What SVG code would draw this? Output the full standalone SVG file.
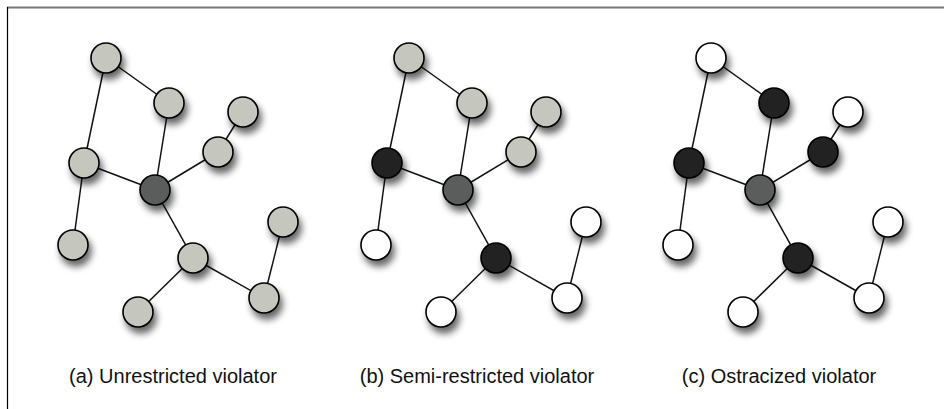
<svg xmlns="http://www.w3.org/2000/svg" width="944" height="409" viewBox="0 0 944 409">
<defs>
<filter id="sh" x="-60%" y="-60%" width="240%" height="240%">
<feGaussianBlur in="SourceAlpha" stdDeviation="3.5"/>
<feOffset dx="3" dy="6" result="b"/>
<feComponentTransfer><feFuncA type="linear" slope="0.6"/></feComponentTransfer>
<feMerge><feMergeNode/><feMergeNode in="SourceGraphic"/></feMerge>
</filter>
</defs>
<style>
.e{stroke:#111;stroke-width:1.5;fill:none}
circle{stroke:#000;stroke-width:1.6;filter:url(#sh)}
.g{fill:#c5c6be}
.c{fill:#5a5d5b}
.k{fill:#222}
.w{fill:#fff}
text{font-family:"Liberation Sans",Arial,sans-serif;font-size:20px;fill:#111;text-anchor:middle}
</style>
<rect width="944" height="409" fill="#fff"/>
<line x1="7" y1="7.5" x2="944" y2="7.5" stroke="#777" stroke-width="2"/>
<line x1="7.5" y1="7" x2="7.5" y2="409" stroke="#000" stroke-width="1.2"/>

<g id="panel-a">
<g id="connectors-a" class="e">
<line x1="106" y1="58" x2="169" y2="103"/>
<line x1="106" y1="58" x2="84" y2="163"/>
<line x1="169" y1="103" x2="155" y2="190"/>
<line x1="84" y1="163" x2="155" y2="190"/>
<line x1="84" y1="163" x2="73" y2="245"/>
<line x1="155" y1="190" x2="218" y2="152"/>
<line x1="218" y1="152" x2="243" y2="112"/>
<line x1="155" y1="190" x2="193" y2="258"/>
<line x1="193" y1="258" x2="138" y2="312"/>
<line x1="193" y1="258" x2="264" y2="298"/>
<line x1="264" y1="298" x2="283" y2="222"/>
</g>
<g id="a-n1"><circle class="g" cx="106" cy="58" r="15"/></g>
<g id="a-n2"><circle class="g" cx="169" cy="103" r="15"/></g>
<g id="a-n3"><circle class="g" cx="243" cy="112" r="15"/></g>
<g id="a-n4"><circle class="g" cx="218" cy="152" r="15"/></g>
<g id="a-n5"><circle class="g" cx="84" cy="163" r="15"/></g>
<g id="a-center"><circle class="c" cx="155" cy="190" r="15"/></g>
<g id="a-n7"><circle class="g" cx="73" cy="245" r="15"/></g>
<g id="a-n8"><circle class="g" cx="193" cy="258" r="15"/></g>
<g id="a-n9"><circle class="g" cx="283" cy="222" r="15"/></g>
<g id="a-n10"><circle class="g" cx="138" cy="312" r="15"/></g>
<g id="a-n11"><circle class="g" cx="264" cy="298" r="15"/></g>
<text x="173" y="383">(a) Unrestricted violator</text>
</g>

<g id="panel-b" transform="translate(303,0)">
<g id="connectors-b" class="e">
<line x1="106" y1="58" x2="169" y2="103"/>
<line x1="106" y1="58" x2="84" y2="163"/>
<line x1="169" y1="103" x2="155" y2="190"/>
<line x1="84" y1="163" x2="155" y2="190"/>
<line x1="84" y1="163" x2="73" y2="245"/>
<line x1="155" y1="190" x2="218" y2="152"/>
<line x1="218" y1="152" x2="243" y2="112"/>
<line x1="155" y1="190" x2="193" y2="258"/>
<line x1="193" y1="258" x2="138" y2="312"/>
<line x1="193" y1="258" x2="264" y2="298"/>
<line x1="264" y1="298" x2="283" y2="222"/>
</g>
<g id="b-n1"><circle class="g" cx="106" cy="58" r="15"/></g>
<g id="b-n2"><circle class="g" cx="169" cy="103" r="15"/></g>
<g id="b-n3"><circle class="g" cx="243" cy="112" r="15"/></g>
<g id="b-n4"><circle class="g" cx="218" cy="152" r="15"/></g>
<g id="b-n5"><circle class="k" cx="84" cy="163" r="15"/></g>
<g id="b-center"><circle class="c" cx="155" cy="190" r="15"/></g>
<g id="b-n7"><circle class="w" cx="73" cy="245" r="15"/></g>
<g id="b-n8"><circle class="k" cx="193" cy="258" r="15"/></g>
<g id="b-n9"><circle class="w" cx="283" cy="222" r="15"/></g>
<g id="b-n10"><circle class="w" cx="138" cy="312" r="15"/></g>
<g id="b-n11"><circle class="w" cx="264" cy="298" r="15"/></g>
<text x="174" y="383">(b) Semi-restricted violator</text>
</g>

<g id="panel-c" transform="translate(605,0)">
<g id="connectors-c" class="e">
<line x1="106" y1="58" x2="169" y2="103"/>
<line x1="106" y1="58" x2="84" y2="163"/>
<line x1="169" y1="103" x2="155" y2="190"/>
<line x1="84" y1="163" x2="155" y2="190"/>
<line x1="84" y1="163" x2="73" y2="245"/>
<line x1="155" y1="190" x2="218" y2="152"/>
<line x1="218" y1="152" x2="243" y2="112"/>
<line x1="155" y1="190" x2="193" y2="258"/>
<line x1="193" y1="258" x2="138" y2="312"/>
<line x1="193" y1="258" x2="264" y2="298"/>
<line x1="264" y1="298" x2="283" y2="222"/>
</g>
<g id="c-n1"><circle class="w" cx="106" cy="58" r="15"/></g>
<g id="c-n2"><circle class="k" cx="169" cy="103" r="15"/></g>
<g id="c-n3"><circle class="w" cx="243" cy="112" r="15"/></g>
<g id="c-n4"><circle class="k" cx="218" cy="152" r="15"/></g>
<g id="c-n5"><circle class="k" cx="84" cy="163" r="15"/></g>
<g id="c-center"><circle class="c" cx="155" cy="190" r="15"/></g>
<g id="c-n7"><circle class="w" cx="73" cy="245" r="15"/></g>
<g id="c-n8"><circle class="k" cx="193" cy="258" r="15"/></g>
<g id="c-n9"><circle class="w" cx="283" cy="222" r="15"/></g>
<g id="c-n10"><circle class="w" cx="138" cy="312" r="15"/></g>
<g id="c-n11"><circle class="w" cx="264" cy="298" r="15"/></g>
<text x="174" y="383">(c) Ostracized violator</text>
</g>
</svg>
